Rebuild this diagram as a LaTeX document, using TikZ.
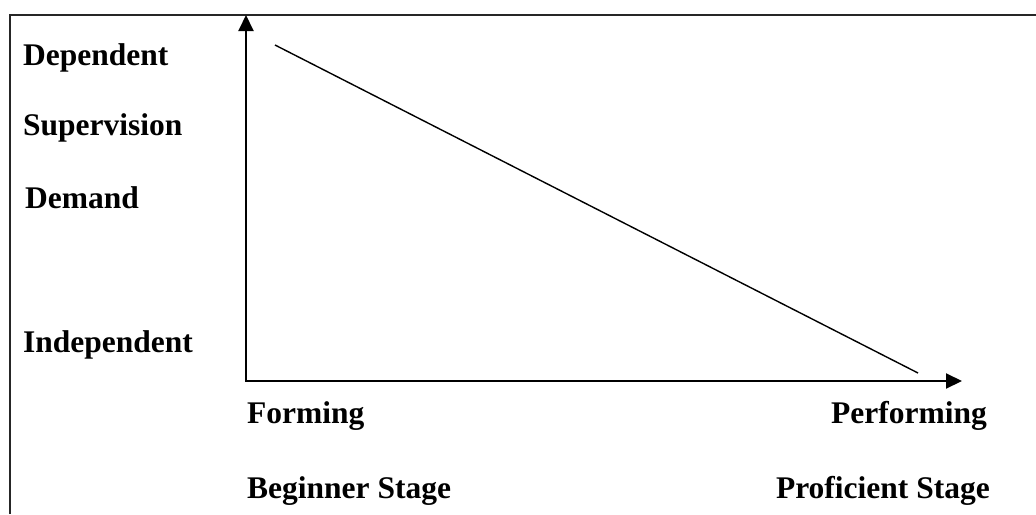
\documentclass[tikz,border=0pt]{standalone}
\usepackage{fontspec}
\setmainfont{Liberation Serif}
\usetikzlibrary{arrows.meta}
\begin{document}
\begin{tikzpicture}[x=1pt,y=-1pt,
  lbl/.style={inner sep=0pt,font=\fontsize{31.5}{36}\selectfont\bfseries},
  axis/.style={line width=2pt,-{Triangle[length=16pt,width=15pt]}},
  trend/.style={line width=1.4pt}]
\useasboundingbox (0,0) rectangle (1036,514);
% outer frame (top and left edges)
\draw[line width=1.6pt,black!85] (10,514) -- (10,15) -- (1036,15);
% axes
\coordinate (O) at (246,381);
\coordinate (ytip) at (246,15);
\coordinate (xtip) at (962,381);
\draw[axis] (O) -- (ytip);
\draw[axis] ([xshift=-1pt]O) -- (xtip);
% declining supervision line
\coordinate (start) at (275,45);
\coordinate (end) at (918,373);
\draw[trend] (start) -- (end);
% vertical axis labels
\node[lbl,anchor=base west] (dep) at (23,65) {Dependent};
\node[lbl,anchor=base west] (sup) at (23,135) {Supervision};
\node[lbl,anchor=base west] (dem) at (25,208) {Demand};
\node[lbl,anchor=base west] (ind) at (23,352) {Independent};
% horizontal axis labels
\node[lbl,anchor=base west] (form) at (247,423) {Forming};
\node[lbl,anchor=base east] (perf) at (987,423) {Performing};
\node[lbl,anchor=base west] (beg) at (247,498) {Beginner Stage};
\node[lbl,anchor=base east] (prof) at (990,498) {Proficient Stage};
\end{tikzpicture}
\end{document}
